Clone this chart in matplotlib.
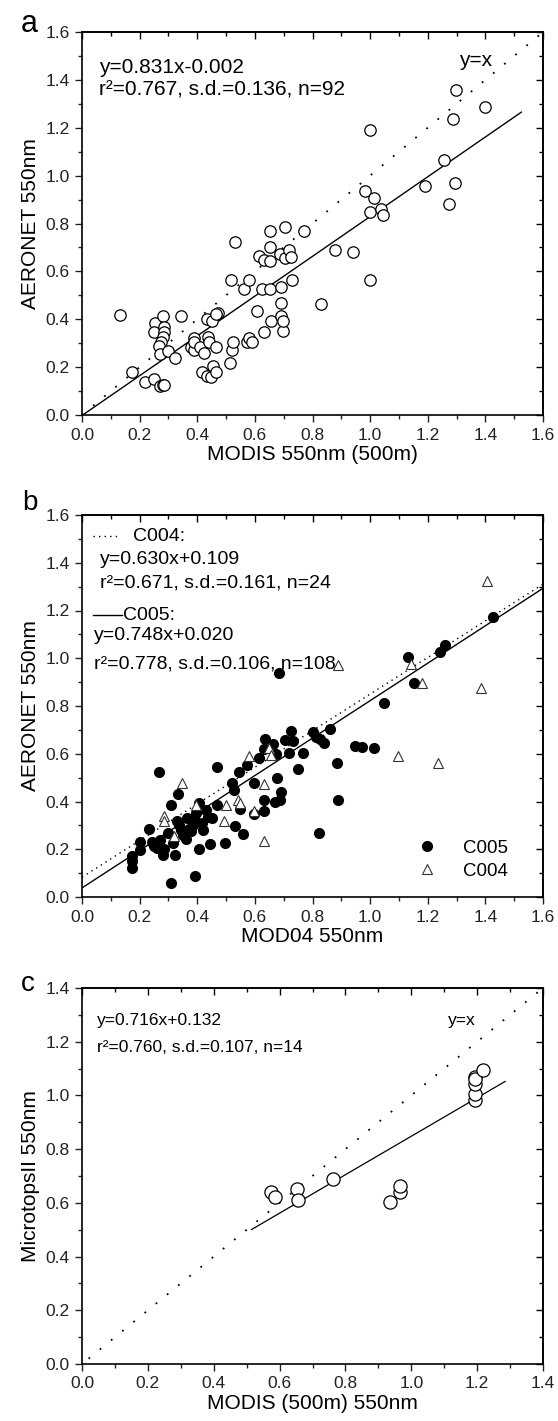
import matplotlib
matplotlib.use("Agg")
import matplotlib.pyplot as plt
import numpy as np
from matplotlib.ticker import MultipleLocator, FormatStrFormatter

plt.rcParams['font.family'] = ['Liberation Sans', 'DejaVu Sans']

# panel a: MODIS 500m vs AERONET
modis_a = [0.132, 0.172, 0.217, 0.249, 0.270, 0.280, 0.252, 0.249, 0.280, 0.283,
           0.286, 0.280, 0.273, 0.267, 0.270, 0.298, 0.323, 0.344, 0.378, 0.390,
           0.390, 0.390, 0.409, 0.422, 0.418, 0.433, 0.447, 0.453, 0.464, 0.433,
           0.452, 0.471, 0.437, 0.440, 0.464, 0.514, 0.520, 0.523, 0.517, 0.530,
           0.563, 0.581, 0.573, 0.581, 0.591, 0.606, 0.615, 0.625, 0.633, 0.633,
           0.652, 0.653, 0.653, 0.653, 0.655, 0.686, 0.689, 0.690, 0.692, 0.696,
           0.698, 0.705, 0.705, 0.719, 0.727, 0.729, 0.772, 0.830, 0.877, 0.942,
           0.982, 1.000, 1.015, 0.998, 1.000, 1.037, 1.043, 1.189, 1.255, 1.273,
           1.286, 1.296, 1.298, 1.397, 0.466, 0.285]
aeronet_a = [0.419, 0.178, 0.136, 0.150, 0.122, 0.127, 0.383, 0.345, 0.412, 0.366,
             0.345, 0.324, 0.303, 0.289, 0.255, 0.269, 0.237, 0.412, 0.282, 0.271,
             0.321, 0.303, 0.282, 0.257, 0.178, 0.164, 0.157, 0.206, 0.178, 0.401,
             0.394, 0.426, 0.327, 0.307, 0.282, 0.217, 0.273, 0.307, 0.565, 0.721,
             0.526, 0.565, 0.307, 0.321, 0.303, 0.433, 0.665, 0.526, 0.647, 0.348,
             0.644, 0.769, 0.700, 0.526, 0.394, 0.672, 0.467, 0.412, 0.533, 0.352,
             0.394, 0.786, 0.654, 0.690, 0.658, 0.565, 0.767, 0.463, 0.690, 0.679,
             0.936, 1.191, 0.906, 0.846, 0.563, 0.860, 0.836, 0.957, 1.066, 0.881,
             1.235, 0.968, 1.358, 1.288, 0.424, 0.125]
fit_a = (0.831, -0.002)
fit_a_range = [0.0, 1.525]

# panel b: MOD04 C005 / C004 vs AERONET
c005_x = [0.172, 0.172, 0.172, 0.202, 0.202, 0.234, 0.243, 0.249, 0.259, 0.267,
          0.271, 0.280, 0.286, 0.298, 0.308, 0.310, 0.317, 0.323, 0.330, 0.333,
          0.335, 0.342, 0.350, 0.360, 0.366, 0.372, 0.378, 0.384, 0.393, 0.390,
          0.397, 0.405, 0.405, 0.415, 0.421, 0.430, 0.436, 0.443, 0.452, 0.468,
          0.468, 0.495, 0.522, 0.528, 0.532, 0.545, 0.548, 0.560, 0.573, 0.596,
          0.596, 0.616, 0.630, 0.633, 0.633, 0.636, 0.662, 0.674, 0.677, 0.671,
          0.689, 0.686, 0.685, 0.705, 0.717, 0.727, 0.732, 0.751, 0.766, 0.801,
          0.813, 0.824, 0.825, 0.840, 0.862, 0.884, 0.887, 0.947, 0.972, 1.015,
          1.049, 1.130, 1.154, 1.243, 1.259, 1.425]
c005_y = [0.150, 0.171, 0.120, 0.230, 0.195, 0.285, 0.230, 0.213, 0.206, 0.523,
          0.237, 0.178, 0.199, 0.269, 0.060, 0.384, 0.227, 0.178, 0.317, 0.433,
          0.303, 0.280, 0.259, 0.241, 0.331, 0.285, 0.275, 0.303, 0.088, 0.331,
          0.352, 0.394, 0.199, 0.310, 0.280, 0.366, 0.335, 0.224, 0.331, 0.384,
          0.544, 0.227, 0.477, 0.447, 0.296, 0.522, 0.369, 0.262, 0.554, 0.477,
          0.348, 0.582, 0.359, 0.408, 0.619, 0.661, 0.641, 0.599, 0.498, 0.397,
          0.438, 0.408, 0.939, 0.658, 0.602, 0.696, 0.655, 0.536, 0.602, 0.693,
          0.672, 0.266, 0.661, 0.644, 0.703, 0.561, 0.408, 0.633, 0.630, 0.623,
          0.811, 1.006, 0.895, 1.027, 1.055, 1.173]
c004_x = [0.283, 0.286, 0.319, 0.348, 0.397, 0.493, 0.501, 0.542, 0.547, 0.581,
          0.596, 0.633, 0.633, 0.649, 0.655, 0.889, 1.142, 1.181, 1.096, 1.237,
          1.386, 1.404]
c004_y = [0.338, 0.317, 0.255, 0.477, 0.387, 0.317, 0.387, 0.408, 0.394, 0.589,
          0.359, 0.474, 0.234, 0.623, 0.596, 0.971, 0.978, 0.897, 0.591, 0.561,
          0.874, 1.322]
line_c004_x = [0.0, 1.6]
line_c004_y = [0.083, 1.31]
line_c005_x = [0.0, 1.6]
line_c005_y = [0.038, 1.293]

# panel c: MODIS 500m vs MicrotopsII
modis_c = [0.575, 0.585, 0.654, 0.656, 0.762, 0.934, 0.965, 0.965, 1.192, 1.192,
           1.192, 1.192, 1.195, 1.219]
microtops_c = [0.639, 0.623, 0.650, 0.611, 0.688, 0.605, 0.642, 0.663, 0.983, 1.005,
               1.042, 1.069, 1.063, 1.094]
fit_c = (0.716, 0.132)
fit_c_range = [0.515, 1.285]

W, H = 558, 1421
fig = plt.figure(figsize=(W / 100, H / 100), dpi=100)

TICK_FS = 12.5
LAB_FS = 15


def make_axes(top_px, bot_px, lim):
    ax = fig.add_axes([82 / W, 1 - bot_px / H, 461 / W, (bot_px - top_px) / H])
    ax.set_xlim(0, lim)
    ax.set_ylim(0, lim)
    for a in (ax.xaxis, ax.yaxis):
        a.set_major_locator(MultipleLocator(0.2))
        a.set_minor_locator(MultipleLocator(0.1))
        a.set_major_formatter(FormatStrFormatter('%.1f'))
    ax.tick_params(which='both', direction='out', top=False, right=False,
                   width=1.0, labelsize=TICK_FS, colors='#222222')
    ax.tick_params(which='major', length=5, pad=4)
    ax.tick_params(which='minor', length=3)
    for s in ax.spines.values():
        s.set_linewidth(1.2)
    # mirrored ticks on top/right point inward
    tx = ax.secondary_xaxis('top')
    tx.xaxis.set_major_locator(MultipleLocator(0.2))
    tx.xaxis.set_minor_locator(MultipleLocator(0.1))
    tx.tick_params(which='both', direction='in', labeltop=False, width=1.0)
    tx.tick_params(which='major', length=5)
    tx.tick_params(which='minor', length=3)
    tx.spines['top'].set_linewidth(1.2)
    ty = ax.secondary_yaxis('right')
    ty.yaxis.set_major_locator(MultipleLocator(0.2))
    ty.yaxis.set_minor_locator(MultipleLocator(0.1))
    ty.tick_params(which='both', direction='in', labelright=False, width=1.0)
    ty.tick_params(which='major', length=5)
    ty.tick_params(which='minor', length=3)
    ty.spines['right'].set_linewidth(1.2)
    return ax


# ---- panel a
ax = make_axes(32, 415, 1.6)
ax.plot([0, 1.6], [0, 1.6], color='black', lw=1.3, linestyle=(0, (1, 7)))
xf = np.array(fit_a_range)
ax.plot(xf, fit_a[0] * xf + fit_a[1], color='black', lw=1.0)
ax.plot(modis_a, aeronet_a, 'o', ms=8.2, mfc='white', mec='black', mew=0.9,
        linestyle='none', zorder=3)
fs_a = 15
ax.text(0.058, 1.451, 'y=0.831x-0.002', fontsize=fs_a, va='center')
ax.text(0.058, 1.36, 'r²=0.767, s.d.=0.136, n=92', fontsize=fs_a, va='center')
ax.text(1.31, 1.48, 'y=x', fontsize=fs_a, va='center')
ax.set_xlabel('MODIS 550nm (500m)', fontsize=LAB_FS, labelpad=2)
ax.set_ylabel('AERONET 550nm', fontsize=LAB_FS, labelpad=4)
fig.text(21 / W, 1 - 32 / H, 'a', fontsize=22, va='baseline')

# ---- panel b
ax = make_axes(515, 897, 1.6)
ax.plot(line_c004_x, line_c004_y, color='black', lw=1.0, linestyle=(0, (1, 3)))
ax.plot(line_c005_x, line_c005_y, color='black', lw=1.0)
ax.plot(c005_x, c005_y, 'o', ms=7, mfc='black', mec='black', linestyle='none',
        zorder=3, label='C005')
ax.plot(c004_x, c004_y, '^', ms=7.5, mfc='white', mec='#333333', mew=0.8,
        linestyle='none', zorder=3, label='C004')
fs_b = 14
ax.plot([0.037, 0.126], [1.51, 1.51], color='black', lw=1.0, linestyle=(0, (1, 3)))
ax.text(0.177, 1.51, 'C004:', fontsize=fs_b, va='center')
ax.text(0.064, 1.415, 'y=0.630x+0.109', fontsize=fs_b, va='center')
ax.text(0.064, 1.316, 'r²=0.671, s.d.=0.161, n=24', fontsize=fs_b, va='center')
ax.plot([0.037, 0.138], [1.18, 1.18], color='black', lw=1.0)
ax.text(0.142, 1.18, 'C005:', fontsize=fs_b, va='center')
ax.text(0.042, 1.094, 'y=0.748x+0.020', fontsize=fs_b, va='center')
ax.text(0.042, 0.976, 'r²=0.778, s.d.=0.106, n=108', fontsize=fs_b, va='center')
leg = ax.legend(loc='lower left', bbox_to_anchor=(0.728, 0.045), frameon=False,
                fontsize=13.5, handlelength=1.0, handletextpad=1.4,
                labelspacing=0.3, borderaxespad=0, borderpad=0)
ax.set_xlabel('MOD04 550nm', fontsize=LAB_FS, labelpad=2)
ax.set_ylabel('AERONET 550nm', fontsize=LAB_FS, labelpad=4)
fig.text(22 / W, 1 - 510 / H, 'b', fontsize=20, va='baseline')

# ---- panel c
ax = make_axes(988, 1364, 1.4)
ax.plot([0.02, 1.4], [0.02, 1.4], color='black', lw=1.3, linestyle=(0, (1, 7)))
xf = np.array(fit_c_range)
ax.plot(xf, fit_c[0] * xf + fit_c[1], color='black', lw=0.9)
ax.plot(modis_c, microtops_c, 'o', ms=9.5, mfc='white', mec='black', mew=0.9,
        linestyle='none', zorder=3)
fs_c = 12.5
ax.text(0.045, 1.28, 'y=0.716x+0.132', fontsize=fs_c, va='center')
ax.text(0.045, 1.18, 'r²=0.760, s.d.=0.107, n=14', fontsize=fs_c, va='center')
ax.text(1.112, 1.28, 'y=x', fontsize=fs_c, va='center')
ax.set_xlabel('MODIS (500m) 550nm', fontsize=LAB_FS, labelpad=2)
ax.set_ylabel('MicrotopsII 550nm', fontsize=LAB_FS, labelpad=4)
fig.text(21 / W, 1 - 991 / H, 'c', fontsize=20, va='baseline')

fig.savefig('out.png', dpi=100)
